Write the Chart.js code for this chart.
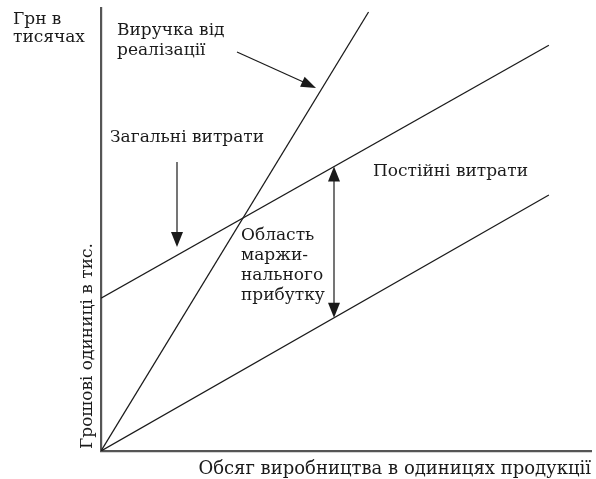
<!DOCTYPE html>
<html><head><meta charset="utf-8">
<script src="https://cdn.jsdelivr.net/npm/chart.js@4/dist/chart.umd.min.js"></script>
<style>html,body{margin:0;padding:0;background:#fff}#wrap{width:596px;height:479px}</style>
</head><body><div id="wrap"><canvas id="c" width="596" height="479"></canvas></div>
<script>
// Data (abstract units, 0..100 on both axes)
const revenueX = [0, 54.6];
const revenueY = [0, 99.1];
const totalCostX = [0, 91.4];
const totalCostY = [34.5, 91.6];
const varCostX = [0, 91.4];
const varCostY = [0, 57.8];

const labels = {
  yTop: ["Грн в", "тисячах"],
  revenue: ["Виручка від", "реалізації"],
  total: ["Загальні витрати"],
  fixed: ["Постійні витрати"],
  margin: ["Область", "маржи-", "нального", "прибутку"],
  xTitle: "Обсяг виробництва в одиницях продукції",
  yTitle: "Грошові одиниці в тис."
};

function pts(xs, ys){ return xs.map((x,i)=>({x:x,y:ys[i]})); }

const FONT = '17px "DejaVu Serif"';

function arrowHead(ctx, x1, y1, x2, y2, len, w){
  const a = Math.atan2(y2-y1, x2-x1);
  ctx.beginPath();
  ctx.moveTo(x2, y2);
  ctx.lineTo(x2 - len*Math.cos(a) + w*Math.sin(a), y2 - len*Math.sin(a) - w*Math.cos(a));
  ctx.lineTo(x2 - len*Math.cos(a) - w*Math.sin(a), y2 - len*Math.sin(a) + w*Math.cos(a));
  ctx.closePath();
  ctx.fill();
}

const annot = {
  id: 'annot',
  afterDraw(chart){
    const ctx = chart.ctx, xs = chart.scales.x, ys = chart.scales.y;
    const X = v => xs.getPixelForValue(v), Y = v => ys.getPixelForValue(v);
    ctx.save();
    ctx.fillStyle = '#1a1a1a';
    ctx.strokeStyle = '#1a1a1a';
    ctx.font = FONT;
    ctx.textBaseline = 'alphabetic';
    ctx.textAlign = 'left';
    // top-left unit text
    ctx.fillText(labels.yTop[0], 13, 24);
    ctx.fillText(labels.yTop[1], 13, 42);
    // revenue label
    ctx.fillText(labels.revenue[0], 117, 35);
    ctx.fillText(labels.revenue[1], 117, 55);
    // total costs
    ctx.fillText(labels.total[0], 110, 142);
    // fixed costs
    ctx.fillText(labels.fixed[0], 373, 176);
    // margin area
    labels.margin.forEach((t,i)=>ctx.fillText(t, 241, 240 + i*20));
    // x title
    ctx.font = '18px "DejaVu Serif"';
    ctx.textAlign = 'right';
    ctx.fillText(labels.xTitle, 591, 474);
    ctx.font = FONT;
    // y title
    ctx.save();
    ctx.translate(92, 449);
    ctx.rotate(-Math.PI/2);
    ctx.textAlign = 'left';
    ctx.fillText(labels.yTitle, 0, 0);
    ctx.restore();

    ctx.lineWidth = 1.2;
    // revenue arrow
    let x1 = 237, y1 = 52, x2 = 316, y2 = 88;
    ctx.beginPath(); ctx.moveTo(x1,y1); ctx.lineTo(x2-6,y2-3); ctx.stroke();
    arrowHead(ctx, x1,y1,x2,y2, 15, 5.5);
    // total costs arrow (down)
    x1 = 177; y1 = 162; x2 = 177; y2 = 247;
    ctx.beginPath(); ctx.moveTo(x1,y1); ctx.lineTo(x2,y2-8); ctx.stroke();
    arrowHead(ctx, x1,y1,x2,y2, 15, 6);
    // double arrow between total and variable cost lines
    const ax = 334;
    const xv = xs.getValueForPixel(ax);
    const yTop = Y(totalCostY[0] + (totalCostY[1]-totalCostY[0])*xv/totalCostX[1]);
    const yBot = Y(varCostY[0] + (varCostY[1]-varCostY[0])*xv/varCostX[1]);
    ctx.beginPath(); ctx.moveTo(ax, yTop+8); ctx.lineTo(ax, yBot-8); ctx.stroke();
    arrowHead(ctx, ax, yBot, ax, yTop, 15, 6);
    arrowHead(ctx, ax, yTop, ax, yBot, 15, 6);
    ctx.restore();
  }
};

new Chart(document.getElementById('c'), {
  type: 'scatter',
  data: {
    datasets: [
      {data: pts(revenueX, revenueY)},
      {data: pts(totalCostX, totalCostY)},
      {data: pts(varCostX, varCostY)}
    ].map(d => Object.assign(d, {showLine:true, borderColor:'#1a1a1a', borderWidth:1.3, pointRadius:0, fill:false}))
  },
  options: {
    responsive: false,
    animation: false,
    events: [],
    layout: {padding: {left: 101, right: 5, top: 8, bottom: 28}},
    plugins: {legend: {display:false}, tooltip: {enabled:false}},
    scales: {
      x: {type:'linear', min:0, max:100, grid:{display:false, drawTicks:false}, ticks:{display:false}, border:{display:true, color:'#555', width:2.2}},
      y: {type:'linear', min:0, max:100, grid:{display:false, drawTicks:false}, ticks:{display:false}, border:{display:true, color:'#555', width:2.2}}
    }
  },
  plugins: [annot]
});
</script>
</body></html>
